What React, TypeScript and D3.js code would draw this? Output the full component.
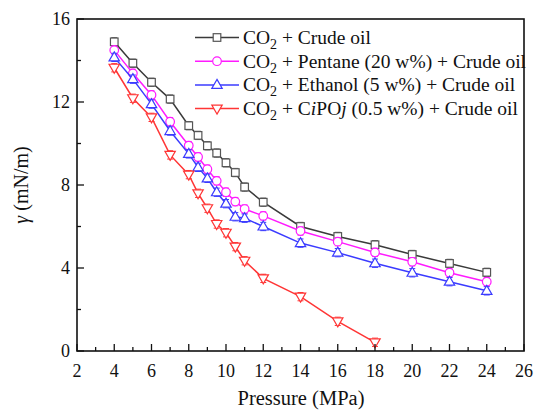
import React from 'react';
import * as d3 from 'd3';

// pressures (MPa) for each series
const pressures = [4, 5, 6, 7, 8, 8.5, 9, 9.5, 10, 10.5, 11, 12, 14, 16, 18, 20, 22, 24];
const pressuresCipoj = [4, 5, 6, 7, 8, 8.5, 9, 9.5, 10, 10.5, 11, 12, 14, 16, 18];

// interfacial tension values (mN/m)
const crudeOil = [14.9, 13.87, 12.95, 12.14, 10.86, 10.39, 9.89, 9.54, 9.07, 8.6, 7.9, 7.17, 6.0, 5.52, 5.12, 4.65, 4.22, 3.79];
const pentane = [14.5, 13.38, 12.34, 11.05, 9.9, 9.35, 8.76, 8.2, 7.65, 7.2, 6.84, 6.51, 5.78, 5.27, 4.75, 4.3, 3.77, 3.34];
const ethanol = [14.15, 13.1, 11.9, 10.6, 9.5, 8.85, 8.32, 7.65, 7.1, 6.47, 6.4, 6.0, 5.2, 4.74, 4.23, 3.77, 3.34, 2.9];
const cipoj = [13.65, 12.18, 11.26, 9.45, 8.5, 7.6, 6.88, 6.12, 5.7, 5.03, 4.35, 3.5, 2.62, 1.43, 0.42];

const errBar = 0.2;

const xTicks = [2, 4, 6, 8, 10, 12, 14, 16, 18, 20, 22, 24, 26];
const yTicks = [0, 4, 8, 12, 16];

const series = [
  { name: 'crude', xs: pressures, ys: crudeOil, color: '#3a3a3a', mark: '#555', shape: 'square' },
  { name: 'pentane', xs: pressures, ys: pentane, color: '#ff1aff', mark: '#ff1aff', shape: 'circle' },
  { name: 'ethanol', xs: pressures, ys: ethanol, color: '#3b3bff', mark: '#3b3bff', shape: 'up' },
  { name: 'cipoj', xs: pressuresCipoj, ys: cipoj, color: '#ff3535', mark: '#ff3535', shape: 'down' },
];

const FONT = 'Liberation Serif';

const x = d3.scaleLinear().domain([2, 26]).range([77, 524]);
const y = d3.scaleLinear().domain([0, 16]).range([351, 19]);
const line = d3.line();

// marker shape centred at (cx, cy)
const Marker = ({ shape, cx, cy, stroke }) => {
  if (shape === 'square')
    return <rect x={cx - 3.8} y={cy - 3.8} width={7.6} height={7.6} fill="#fff" stroke={stroke} strokeWidth={1.2} />;
  if (shape === 'circle')
    return <circle cx={cx} cy={cy} r={4.3} fill="#fff" stroke={stroke} strokeWidth={1.2} />;
  const s = shape === 'up' ? 1 : -1;
  const pts = [[cx, cy - 5.5 * s], [cx + 5.2, cy + 3.5 * s], [cx - 5.2, cy + 3.5 * s]];
  return <path d={line(pts) + 'Z'} fill="#fff" stroke={stroke} strokeWidth={1.2} />;
};

const Co2 = () => (
  <>
    <tspan>CO</tspan>
    <tspan dy={5} fontSize={14}>2</tspan>
    <tspan dy={-5}>{' + '}</tspan>
  </>
);

const legendText = [
  <><Co2 />Crude oil</>,
  <><Co2 />Pentane (20 w%) + Crude oil</>,
  <><Co2 />Ethanol (5 w%) + Crude oil</>,
  <><Co2 />C<tspan fontStyle="italic">i</tspan>PO<tspan fontStyle="italic">j</tspan> (0.5 w%) + Crude oil</>,
];

const App = () => {
  const minorX = d3.range(2, 26.01, 1);
  const minorY = d3.range(0, 16.01, 2);
  return (
    <svg width={535} height={411} style={{ position: 'absolute', left: 0, top: 0 }}>
      <rect width={535} height={411} fill="#fff" />

      {series.map((s) => {
        const pts = s.xs.map((p, i) => [x(p), y(s.ys[i])]);
        return (
          <g key={s.name}>
            <path d={line(pts)} fill="none" stroke={s.color} strokeWidth={1.5} />
            {pts.map(([cx, cy], i) => {
              const top = y(s.ys[i] + errBar);
              const bot = y(s.ys[i] - errBar);
              return (
                <g key={i}>
                  <path d={`M${cx},${top}V${bot}M${cx - 3},${top}H${cx + 3}M${cx - 3},${bot}H${cx + 3}`}
                    stroke={s.mark} strokeWidth={1} fill="none" />
                  <Marker shape={s.shape} cx={cx} cy={cy} stroke={s.mark} />
                </g>
              );
            })}
          </g>
        );
      })}

      {/* frame and inward ticks */}
      <rect x={77} y={19} width={524 - 77} height={351 - 19} fill="none" stroke="#111" strokeWidth={1.6} />
      <g stroke="#111" strokeWidth={1.3}>
        {minorX.map((v) => (
          <line key={'x' + v} x1={x(v)} x2={x(v)} y1={351} y2={351 - (v % 2 === 0 ? 7 : 4)} />
        ))}
        {minorY.map((v) => (
          <line key={'y' + v} y1={y(v)} y2={y(v)} x1={77} x2={77 + (v % 4 === 0 ? 7 : 4)} />
        ))}
      </g>

      <g fontFamily={FONT} fill="#111">
        {xTicks.map((d) => (
          <text key={d} x={x(d)} y={377} textAnchor="middle" fontSize={18}>{d}</text>
        ))}
        {yTicks.map((d) => (
          <text key={d} x={70} y={y(d) + 6} textAnchor="end" fontSize={18}>{d}</text>
        ))}
        <text x={301} y={405} textAnchor="middle" fontSize={20.5}>Pressure (MPa)</text>
        <text transform="translate(28,185) rotate(-90)" textAnchor="middle" fontSize={20}>
          <tspan fontStyle="italic">γ</tspan> (mN/m)
        </text>
      </g>

      {/* legend */}
      {series.map((s, i) => {
        const cy = 37.5 + i * 23.7;
        return (
          <g key={'lg' + s.name}>
            <line x1={195} x2={239} y1={cy} y2={cy} stroke={s.color} strokeWidth={1.5} />
            <Marker shape={s.shape} cx={217} cy={cy} stroke={s.mark} />
            <text x={243} y={cy + 6.5} fontFamily={FONT} fontSize={19.5} fill="#111">{legendText[i]}</text>
          </g>
        );
      })}
    </svg>
  );
};

export default App;
